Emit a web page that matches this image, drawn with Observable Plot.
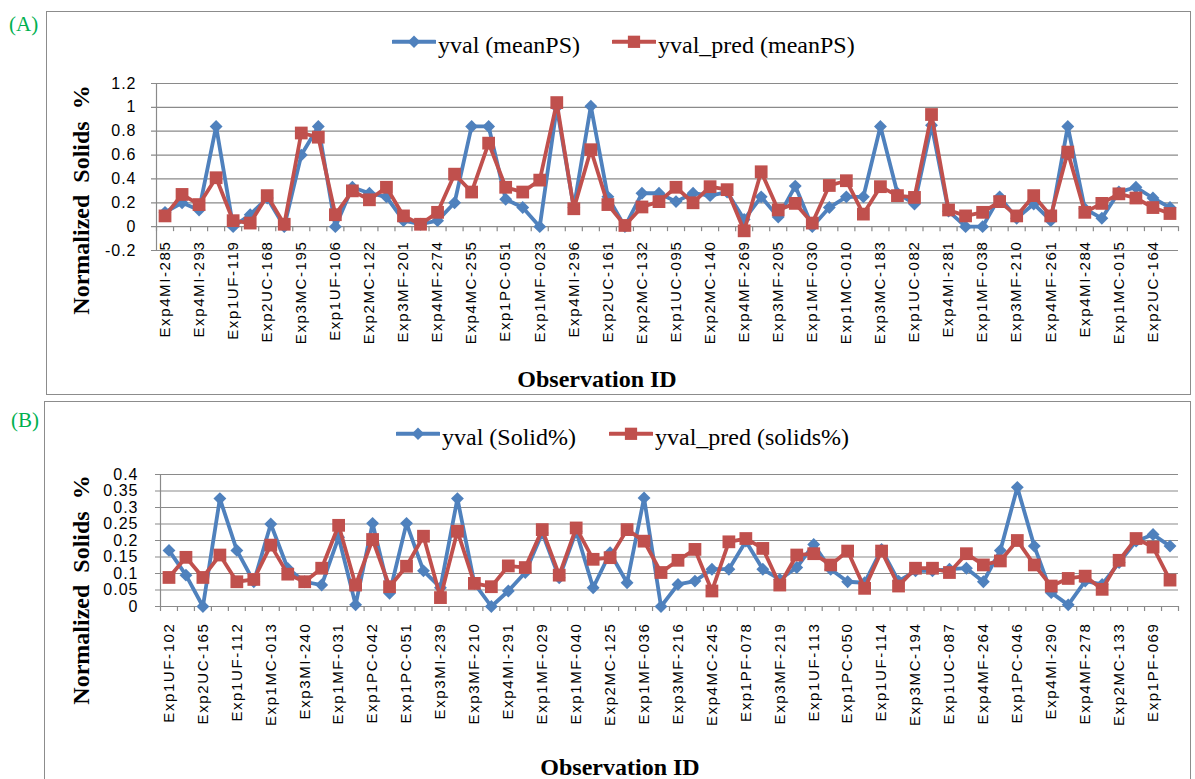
<!DOCTYPE html>
<html><head><meta charset="utf-8">
<script src="https://cdn.jsdelivr.net/npm/d3@7"></script>
<script src="https://cdn.jsdelivr.net/npm/@observablehq/plot@0.6"></script>
<style>
body{margin:0;background:#fff;}
#wrap{position:relative;width:1195px;height:779px;overflow:hidden;background:#fff;font-family:"Liberation Serif","Times New Roman",serif;color:#000;}
.box{position:absolute;border:1px solid #8c8c8c;box-sizing:border-box;}
.tag{position:absolute;color:#00b050;font-size:21px;line-height:21px;}
.leg{position:absolute;display:flex;align-items:flex-start;font-size:24px;line-height:24px;white-space:nowrap;}
.leg svg{display:block;margin-right:2px;}
.ytitle{position:absolute;font-weight:bold;font-size:24px;line-height:24px;white-space:pre;transform:translate(-50%,-50%) rotate(-90deg);}
.xtitle{position:absolute;font-weight:bold;font-size:24px;line-height:24px;white-space:nowrap;transform:translateX(-50%);}
.plot{position:absolute;left:0;}
</style>
</head><body>
<div id="wrap"></div>
<script>
// ---------- Data ----------
const labelsA = ["Exp4MI-285","Exp4MI-293","Exp1UF-119","Exp2UC-168","Exp3MC-195","Exp1UF-106","Exp2MC-122","Exp3MF-201","Exp4MF-274","Exp4MC-255","Exp1PC-051","Exp1MF-023","Exp4MI-296","Exp2UC-161","Exp2MC-132","Exp1UC-095","Exp2MC-140","Exp4MF-269","Exp3MF-205","Exp1MF-030","Exp1MC-010","Exp3MC-183","Exp1UC-082","Exp4MI-281","Exp1MF-038","Exp3MF-210","Exp4MF-261","Exp4MI-284","Exp1MC-015","Exp2UC-164"];
const yvalA = [0.12,0.20,0.14,0.84,0.0,0.10,0.24,0.0,0.60,0.84,
  0.0,0.33,0.28,0.25,0.05,0.02,0.05,0.20,0.84,0.84,
  0.23,0.16,0.0,1.0,0.16,1.01,0.25,0.0,0.28,0.28,
  0.21,0.28,0.26,0.29,0.06,0.25,0.08,0.34,0.0,0.16,
  0.25,0.25,0.84,0.28,0.19,0.85,0.13,0.0,0.0,0.25,
  0.07,0.19,0.05,0.84,0.15,0.07,0.29,0.33,0.24,0.16];
const yvalPredA = [0.09,0.27,0.185,0.41,0.05,0.03,0.26,0.02,0.785,0.75,
  0.10,0.30,0.225,0.33,0.09,0.02,0.12,0.44,0.29,0.70,
  0.33,0.29,0.39,1.04,0.15,0.645,0.185,0.01,0.165,0.21,
  0.33,0.20,0.335,0.31,-0.035,0.46,0.14,0.195,0.03,0.345,
  0.385,0.105,0.335,0.26,0.245,0.94,0.14,0.09,0.12,0.21,
  0.09,0.26,0.09,0.625,0.12,0.195,0.275,0.24,0.16,0.11];
const yTicksA = [-0.2,0,0.2,0.4,0.6,0.8,1,1.2];

const labelsB = ["Exp1UF-102","Exp2UC-165","Exp1UF-112","Exp1MC-013","Exp3MI-240","Exp1MF-031","Exp1PC-042","Exp1PC-051","Exp3MI-239","Exp3MF-210","Exp4MI-291","Exp1MF-029","Exp1MF-040","Exp2MC-125","Exp1MF-036","Exp3MF-216","Exp4MC-245","Exp1PF-078","Exp3MF-219","Exp1UF-113","Exp1PC-050","Exp1UF-114","Exp3MC-194","Exp1UC-087","Exp4MF-264","Exp1PC-046","Exp4MI-290","Exp4MF-278","Exp2MC-133","Exp1PF-069"];
const yvalB = [0.17,0.095,0.0,0.327,0.17,0.075,0.25,0.115,0.075,0.065,
  0.21,0.005,0.252,0.04,0.252,0.108,0.057,0.327,0.07,0.0,
  0.047,0.103,0.223,0.087,0.228,0.057,0.163,0.072,0.329,0.0,
  0.067,0.077,0.113,0.113,0.198,0.113,0.082,0.118,0.188,0.113,
  0.075,0.072,0.173,0.077,0.108,0.108,0.113,0.116,0.075,0.17,
  0.361,0.183,0.042,0.005,0.077,0.067,0.133,0.198,0.218,0.183];
const yvalPredB = [0.088,0.149,0.088,0.156,0.075,0.082,0.186,0.098,0.075,0.116,
  0.246,0.065,0.203,0.06,0.122,0.213,0.027,0.228,0.07,0.06,
  0.123,0.118,0.233,0.095,0.238,0.143,0.148,0.233,0.198,0.103,
  0.14,0.173,0.047,0.196,0.206,0.176,0.065,0.156,0.16,0.126,
  0.168,0.055,0.168,0.062,0.116,0.116,0.103,0.16,0.126,0.138,
  0.2,0.126,0.062,0.085,0.092,0.052,0.14,0.206,0.18,0.08];
const yTicksB = [0,0.05,0.1,0.15,0.2,0.25,0.3,0.35,0.4];

const seriesNamesA = ["yval (meanPS)", "yval_pred (meanPS)"];
const seriesNamesB = ["yval (Solid%)", "yval_pred (solids%)"];

// ---------- Style ----------
const BLUE = "#4F81BD", RED = "#C0504D", GRID = "#8a8a8a";

function panel(opts) {
  const {vals, preds, labels, yTicks, yDomain, height, marginTop, marginBottom, marginLeft, labelDy, yLabelDx} = opts;
  const n = vals.length;
  const xi = (d, i) => i + 0.5;
  const svg = Plot.plot({
    width: 1195, height, marginTop, marginBottom, marginLeft, marginRight: 17,
    style: {background: "transparent", fontFamily: "'Liberation Sans', Arial, sans-serif", fontSize: "16px", color: "#000", overflow: "visible"},
    x: {domain: [0, n], axis: null},
    y: {domain: yDomain, axis: null},
    marks: [
      Plot.ruleY(yTicks, {stroke: GRID, strokeWidth: 1.2, insetLeft: -5}),
      Plot.ruleX([0], {stroke: GRID, strokeWidth: 1.2}),
      Plot.ruleX(d3.range(n + 1), {y1: 0, y2: 0, insetBottom: -5, stroke: GRID, strokeWidth: 1.2}),
      Plot.text(yTicks, {y: d => d, text: d => String(d), frameAnchor: "left", textAnchor: "end", dx: yLabelDx, fontSize: 16, fill: "#000"}),
      Plot.text(labels, {x: (d, i) => 2 * i + 0.5, y: () => 0, text: d => d, rotate: -90, textAnchor: "end", lineAnchor: "middle", dy: labelDy, fontSize: 15, fill: "#000"}),
      Plot.line(vals, {x: xi, y: d => d, stroke: BLUE, strokeWidth: 3.8, strokeLinejoin: "round"}),
      Plot.dot(vals, {x: xi, y: d => d, symbol: "diamond2", r: 5.8, fill: BLUE}),
      Plot.line(preds, {x: xi, y: d => d, stroke: RED, strokeWidth: 3.8, strokeLinejoin: "round"}),
      Plot.dot(preds, {x: xi, y: d => d, symbol: "square", r: 7.2, fill: RED})
    ]
  });
  svg.querySelectorAll("text").forEach(t => {
    const tr = t.getAttribute("transform") || "";
    t.style.letterSpacing = tr.includes("rotate") ? "1.6px" : "1px";
  });
  return svg;
}

const wrap = document.getElementById("wrap");
function el(tag, cls, css, text) {
  const e = document.createElement(tag);
  if (cls) e.className = cls;
  Object.assign(e.style, css || {});
  if (text != null) e.textContent = text;
  wrap.appendChild(e);
  return e;
}
function swatch(color, symbol) {
  const ns = "http://www.w3.org/2000/svg";
  const s = document.createElementNS(ns, "svg");
  s.setAttribute("width", 44); s.setAttribute("height", 24);
  const cy = 8.8;
  const l = document.createElementNS(ns, "line");
  l.setAttribute("x1", 1); l.setAttribute("x2", 43); l.setAttribute("y1", cy); l.setAttribute("y2", cy);
  l.setAttribute("stroke", color); l.setAttribute("stroke-width", 4); l.setAttribute("stroke-linecap", "round");
  s.appendChild(l);
  const p = document.createElementNS(ns, "path");
  p.setAttribute("d", d3.symbol(symbol === "diamond" ? d3.symbolDiamond2 : d3.symbolSquare, symbol === "diamond" ? 100 : 150)());
  p.setAttribute("transform", `translate(22,${cy})`);
  p.setAttribute("fill", color);
  s.appendChild(p);
  return s;
}
function legendItem(left, top, color, symbol, text) {
  const d = el("div", "leg", {left: left + "px", top: top + "px"});
  d.appendChild(swatch(color, symbol));
  const sp = document.createElement("span"); sp.textContent = text; d.appendChild(sp);
}

// Panel boxes
el("div", "box", {left: "46px", top: "11px", width: "1145px", height: "384px"});
el("div", "box", {left: "44px", top: "401px", width: "1147px", height: "420px"});
el("div", "tag", {left: "9px", top: "14px"}, "(A)");
el("div", "tag", {left: "11px", top: "410px"}, "(B)");

// Plots
const svgA = panel({vals: yvalA, preds: yvalPredA, labels: labelsA, yTicks: yTicksA, yDomain: [-0.2, 1.2],
  height: 395, marginTop: 83, marginBottom: 145, marginLeft: 156, labelDy: 14, yLabelDx: -20});
svgA.classList.add("plot"); svgA.style.top = "0px"; wrap.appendChild(svgA);
const svgB = panel({vals: yvalB, preds: yvalPredB, labels: labelsB, yTicks: yTicksB, yDomain: [0, 0.4],
  height: 379, marginTop: 74, marginBottom: 173, marginLeft: 160, labelDy: 16, yLabelDx: -22});
svgB.classList.add("plot"); svgB.style.top = "400px"; wrap.appendChild(svgB);

// Legends
legendItem(392, 33, BLUE, "diamond", seriesNamesA[0]);
legendItem(612, 33, RED, "square", seriesNamesA[1]);
legendItem(396, 425, BLUE, "diamond", seriesNamesB[0]);
legendItem(609, 425, RED, "square", seriesNamesB[1]);

// Axis titles
el("div", "ytitle", {left: "81px", top: "200px"}, "Normalized  Solids  %");
el("div", "ytitle", {left: "81px", top: "590px"}, "Normalized  Solids  %");
el("div", "xtitle", {left: "597px", top: "367px"}, "Observation ID");
el("div", "xtitle", {left: "620px", top: "755px"}, "Observation ID");
</script>
</body></html>
